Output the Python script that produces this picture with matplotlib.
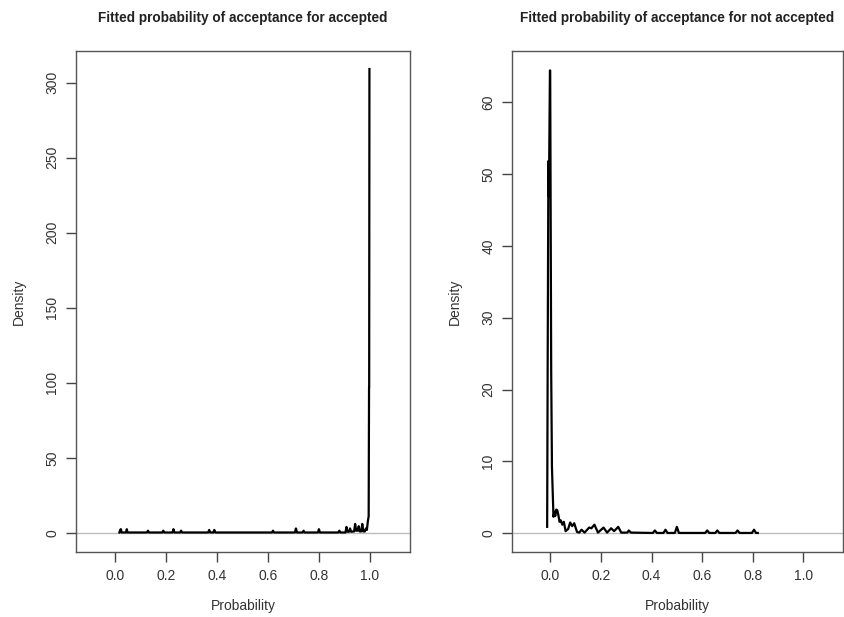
import matplotlib.pyplot as plt

# === Density curve: fitted probability, accepted ===
acc_x = [0.018, 0.021, 0.024, 0.027, 0.044, 0.047, 0.050,
         0.126, 0.130, 0.134, 0.186, 0.190, 0.194, 0.226, 0.230, 0.234,
         0.256, 0.260, 0.264, 0.366, 0.370, 0.374, 0.386, 0.390, 0.394,
         0.616, 0.620, 0.624, 0.706, 0.710, 0.714, 0.736, 0.740, 0.744,
         0.796, 0.800, 0.804, 0.876, 0.880, 0.884, 0.904, 0.908, 0.912,
         0.918, 0.922, 0.926, 0.938, 0.942, 0.946, 0.952, 0.956, 0.960,
         0.966, 0.970, 0.974, 0.980, 0.984, 0.988, 0.992, 0.995, 0.9965,
         0.997, 0.998]
acc_y = [0.3, 2.0, 2.5, 0.3, 0.3, 2.5, 0.3,
         0.3, 1.5, 0.3, 0.3, 1.5, 0.3, 0.3, 2.5, 0.3,
         0.3, 1.5, 0.3, 0.3, 2.0, 0.3, 0.3, 2.0, 0.3,
         0.3, 1.5, 0.3, 0.3, 3.0, 0.3, 0.3, 1.5, 0.3,
         0.3, 2.5, 0.3, 0.3, 1.5, 0.3, 0.3, 4.0, 0.8,
         0.8, 3.0, 0.8, 1.0, 6.0, 1.5, 1.5, 4.5, 1.0,
         1.0, 6.0, 1.0, 1.0, 3.0, 2.0, 8.0, 11.0, 97.0,
         97.0, 309.0]

# === Density curve: fitted probability, not accepted ===
rej_x = [-0.013, -0.0125, -0.011, -0.008, -0.006, -0.002, -0.001, 0.003,
         0.006, 0.012, 0.016, 0.019, 0.023, 0.027, 0.031, 0.036, 0.041,
         0.047, 0.053, 0.060, 0.070, 0.078, 0.086, 0.094, 0.105, 0.114,
         0.123, 0.135, 0.153, 0.162, 0.174, 0.188, 0.210, 0.224, 0.240,
         0.252, 0.268, 0.280, 0.304, 0.310, 0.318, 0.405, 0.413, 0.421,
         0.447, 0.455, 0.463, 0.492, 0.500, 0.508, 0.612, 0.620, 0.628,
         0.652, 0.660, 0.668, 0.732, 0.740, 0.748, 0.797, 0.805, 0.813,
         0.820]
rej_y = [0.9, 6.0, 23.0, 51.8, 46.8, 64.4, 64.4, 22.5,
         9.2, 2.3, 3.0, 2.4, 3.3, 3.2, 2.6, 1.6, 1.8,
         1.2, 1.6, 0.3, 0.6, 1.5, 1.0, 1.4, 0.2, 0.1,
         0.5, 0.1, 0.8, 0.7, 1.2, 0.1, 0.8, 0.1, 0.7,
         0.3, 0.9, 0.1, 0.1, 0.4, 0.1, 0.05, 0.4, 0.05,
         0.05, 0.5, 0.05, 0.05, 0.9, 0.05, 0.05, 0.4, 0.05,
         0.05, 0.4, 0.05, 0.05, 0.4, 0.05, 0.05, 0.5, 0.05,
         0.05]

x_ticks = [0.0, 0.2, 0.4, 0.6, 0.8, 1.0]
acc_yticks = [0, 50, 100, 150, 200, 250, 300]
rej_yticks = [0, 10, 20, 30, 40, 50, 60]

titles = ["Fitted probability of acceptance for accepted",
          "Fitted probability of acceptance for not accepted"]

plt.rcParams['font.family'] = ['Liberation Sans', 'DejaVu Sans']

W, H = 845, 617
fig = plt.figure(figsize=(W / 100, H / 100), dpi=100)

panels = [
    # (left px, right px, x data, y data, yticks, ylim, title)
    (76, 410, acc_x, acc_y, acc_yticks, (-12.7, 321), titles[0]),
    (512, 843, rej_x, rej_y, rej_yticks, (-2.6, 67.1), titles[1]),
]

top_px, bottom_px = 51, 552
for left, right, xs, ys, yt, yl, title in panels:
    ax = fig.add_axes([left / W, 1 - bottom_px / H, (right - left) / W, (bottom_px - top_px) / H])
    ax.axhline(0, color='#bdbdbd', lw=1, zorder=1)
    ax.plot(xs, ys, color='black', lw=1.6, zorder=2)
    ax.set_xlim(-0.152, 1.157)
    ax.set_ylim(*yl)
    ax.set_xticks(x_ticks)
    ax.set_xticklabels([f"{v:.1f}" for v in x_ticks])
    ax.set_yticks(yt)
    ax.set_yticklabels([str(v) for v in yt], rotation=90, va='center')
    ax.tick_params(direction='out', length=7, width=1, color='#444444',
                   labelsize=10, labelcolor='#333333', pad=5)
    for s in ax.spines.values():
        s.set_color('#555555')
        s.set_linewidth(1)
    ax.set_xlabel("Probability", fontsize=10, color='#333333', labelpad=12)
    ax.set_ylabel("Density", fontsize=10, color='#333333', labelpad=14)
    fig.text((left + right) / 2 / W, 1 - 18 / H, title, ha='center', va='center',
             fontsize=9.8, fontweight='bold', color='#222222')

fig.savefig("out.png", dpi=100)
